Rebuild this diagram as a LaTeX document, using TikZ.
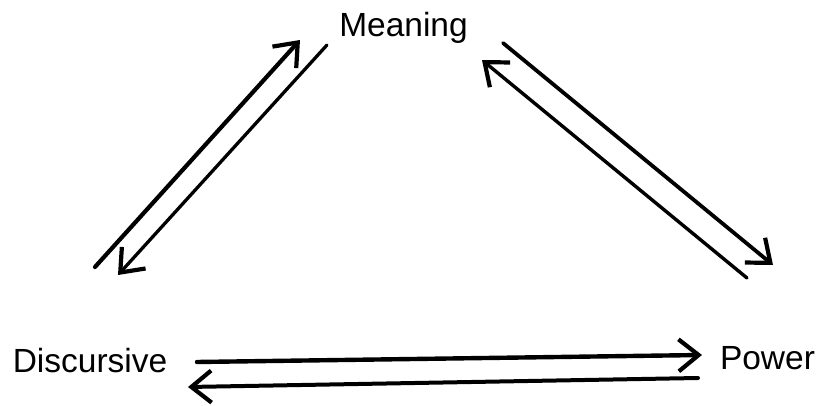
\documentclass[tikz,border=0pt]{standalone}
\usepackage{fontspec}
\setmainfont{Liberation Sans}
\usetikzlibrary{arrows.meta}
\tikzset{
  lbl/.style={inner sep=0pt, anchor=base, font=\fontsize{33.5}{40}\selectfont},
  arr/.style={-{Straight Barb[length=20pt,width=32pt,line width=4.2pt]}, line width=#1, line cap=round},
  arr/.default=3.5pt
}
\begin{document}
\begin{tikzpicture}[x=1pt,y=-1pt]
\useasboundingbox (0,0) rectangle (820,406);
\node[lbl] (meaning) at (403.5,37) {Meaning};
\node[lbl] (discursive) at (90,372) {Discursive};
\node[lbl] (power) at (767.5,369) {Power};
% left pair
\coordinate (a1) at (95,267);  \coordinate (a2) at (300,40);
\coordinate (b1) at (327,45);  \coordinate (b2) at (118,275);
% right pair
\coordinate (c1) at (747,278); \coordinate (c2) at (482,60);
\coordinate (d1) at (503,43);  \coordinate (d2) at (773,265);
% bottom pair
\coordinate (e1) at (197,362); \coordinate (e2) at (702,355);
\coordinate (f1) at (698,378); \coordinate (f2) at (188,387);
\draw[arr=4.2pt] (a1) -- (a2);
\draw[arr=3.3pt] (b1) -- (b2);
\draw[arr=3.4pt] (c1) -- (c2);
\draw[arr=3.8pt] (d1) -- (d2);
\draw[arr=4.4pt] (e1) -- (e2);
\draw[arr=4pt] (f1) -- (f2);
\end{tikzpicture}
\end{document}
